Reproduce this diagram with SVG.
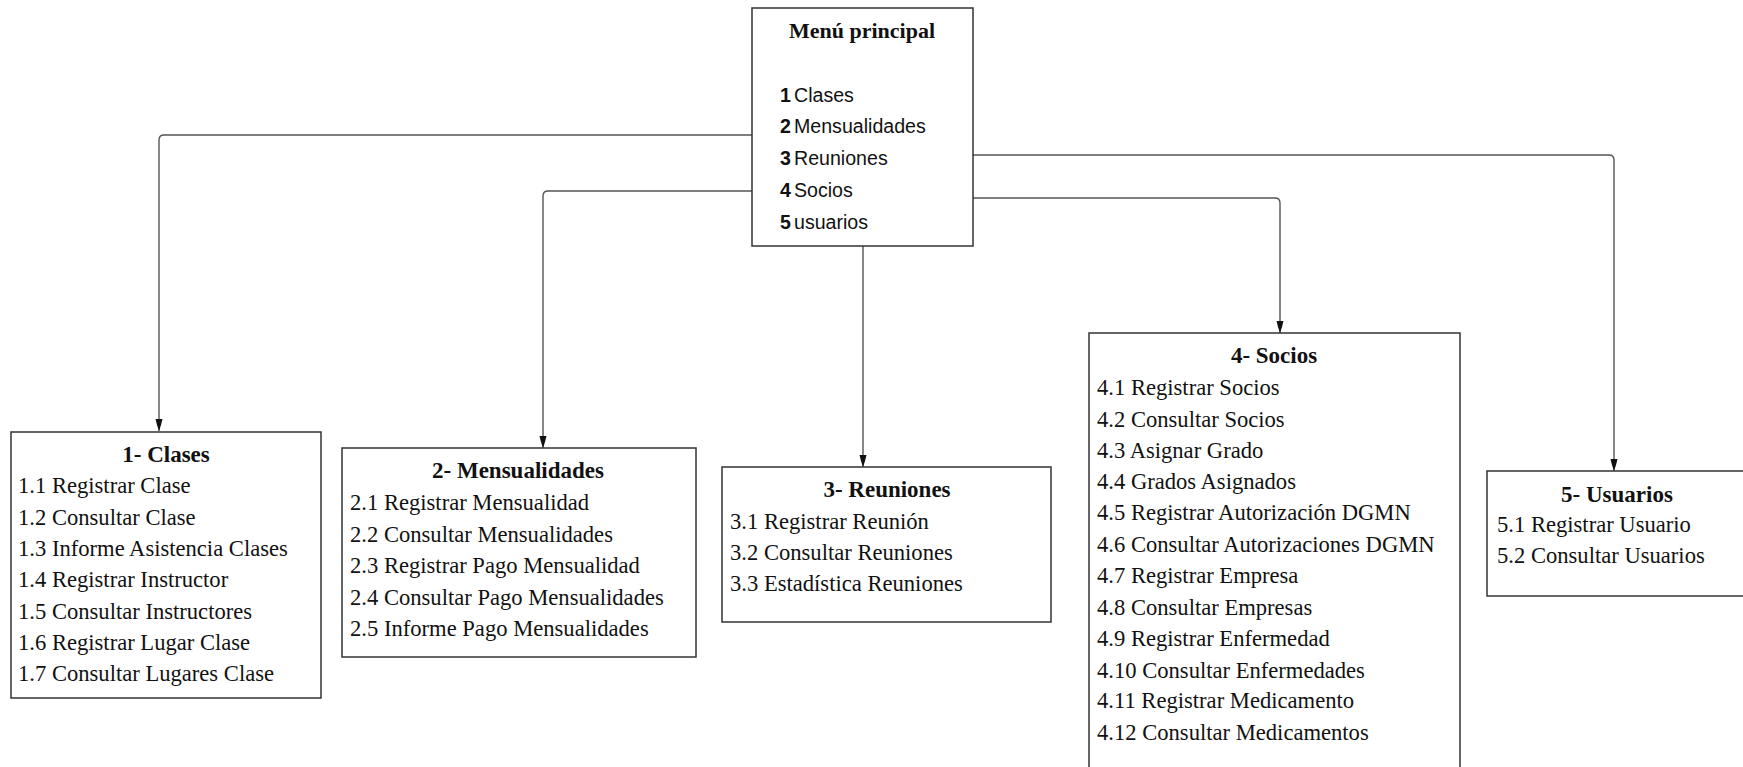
<svg xmlns="http://www.w3.org/2000/svg" width="1743" height="767" viewBox="0 0 1743 767">
<defs>
<style>
.box{fill:#fff;stroke:#333;stroke-width:1.5}
.conn{fill:none;stroke:#555;stroke-width:1.4}
.t{font-family:"Liberation Serif","Times New Roman",serif;font-size:22.6px;fill:#111}
.h{font-family:"Liberation Serif","Times New Roman",serif;font-size:23px;font-weight:bold;fill:#111;text-anchor:middle}
.hm{font-size:22px}
.m{font-family:"Liberation Sans",Arial,sans-serif;font-size:19.6px;fill:#111}
.mb{font-weight:bold}
</style>
<marker id="arr" viewBox="0 0 12 8" refX="12" refY="4" markerWidth="12" markerHeight="8" markerUnits="userSpaceOnUse" orient="auto">
<path d="M0,0.5 L6,2 L12,4 L6,6 L0,7.5 Z" fill="#111"/>
</marker>
</defs>
<rect width="1743" height="767" fill="#fff"/>
<g id="connectors">
<path class="conn" d="M752,135 H164 Q159,135 159,140 V431" marker-end="url(#arr)"/>
<path class="conn" d="M752,191 H548 Q543,191 543,196 V448" marker-end="url(#arr)"/>
<path class="conn" d="M863,246 V467" marker-end="url(#arr)"/>
<path class="conn" d="M973,198 H1275 Q1280,198 1280,203 V333" marker-end="url(#arr)"/>
<path class="conn" d="M973,155 H1609 Q1614,155 1614,160 V471" marker-end="url(#arr)"/>
</g>
<g id="menu">
<rect class="box" x="752" y="8" width="221" height="238"/>
<text class="h hm" x="862" y="38">Menú principal</text>
<text class="m" y="102"><tspan class="mb" x="780">1</tspan><tspan x="794">Clases</tspan></text>
<text class="m" y="133"><tspan class="mb" x="780">2</tspan><tspan x="794">Mensualidades</tspan></text>
<text class="m" y="165"><tspan class="mb" x="780">3</tspan><tspan x="794">Reuniones</tspan></text>
<text class="m" y="197"><tspan class="mb" x="780">4</tspan><tspan x="794">Socios</tspan></text>
<text class="m" y="229"><tspan class="mb" x="780">5</tspan><tspan x="794">usuarios</tspan></text>
</g>
<g id="clases">
<rect class="box" x="11" y="432" width="310" height="266"/>
<text class="h" x="166" y="462">1- Clases</text>
<text class="t" x="18" y="493">1.1 Registrar Clase</text>
<text class="t" x="18" y="525">1.2 Consultar Clase</text>
<text class="t" x="18" y="556">1.3 Informe Asistencia Clases</text>
<text class="t" x="18" y="587">1.4 Registrar Instructor</text>
<text class="t" x="18" y="619">1.5 Consultar Instructores</text>
<text class="t" x="18" y="650">1.6 Registrar Lugar Clase</text>
<text class="t" x="18" y="681">1.7 Consultar Lugares Clase</text>
</g>
<g id="mensualidades">
<rect class="box" x="342" y="448" width="354" height="209"/>
<text class="h" x="518" y="478">2- Mensualidades</text>
<text class="t" x="350" y="510">2.1 Registrar Mensualidad</text>
<text class="t" x="350" y="542">2.2 Consultar Mensualidades</text>
<text class="t" x="350" y="573">2.3 Registrar Pago Mensualidad</text>
<text class="t" x="350" y="605">2.4 Consultar Pago Mensualidades</text>
<text class="t" x="350" y="636">2.5 Informe Pago Mensualidades</text>
</g>
<g id="reuniones">
<rect class="box" x="722" y="467" width="329" height="155"/>
<text class="h" x="887" y="497">3- Reuniones</text>
<text class="t" x="730" y="529">3.1 Registrar Reunión</text>
<text class="t" x="730" y="560">3.2 Consultar Reuniones</text>
<text class="t" x="730" y="591">3.3 Estadística Reuniones</text>
</g>
<g id="socios">
<rect class="box" x="1089" y="333" width="371" height="460"/>
<text class="h" x="1274" y="363">4- Socios</text>
<text class="t" x="1097" y="395">4.1 Registrar Socios</text>
<text class="t" x="1097" y="427">4.2 Consultar Socios</text>
<text class="t" x="1097" y="458">4.3 Asignar Grado</text>
<text class="t" x="1097" y="489">4.4 Grados Asignados</text>
<text class="t" x="1097" y="520">4.5 Registrar Autorización DGMN</text>
<text class="t" x="1097" y="552">4.6 Consultar Autorizaciones DGMN</text>
<text class="t" x="1097" y="583">4.7 Registrar Empresa</text>
<text class="t" x="1097" y="615">4.8 Consultar Empresas</text>
<text class="t" x="1097" y="646">4.9 Registrar Enfermedad</text>
<text class="t" x="1097" y="678">4.10 Consultar Enfermedades</text>
<text class="t" x="1097" y="708">4.11 Registrar Medicamento</text>
<text class="t" x="1097" y="740">4.12 Consultar Medicamentos</text>
</g>
<g id="usuarios">
<rect class="box" x="1487" y="471" width="270" height="125"/>
<text class="h" x="1617" y="502">5- Usuarios</text>
<text class="t" x="1497" y="532">5.1 Registrar Usuario</text>
<text class="t" x="1497" y="563">5.2 Consultar Usuarios</text>
</g>
</svg>
